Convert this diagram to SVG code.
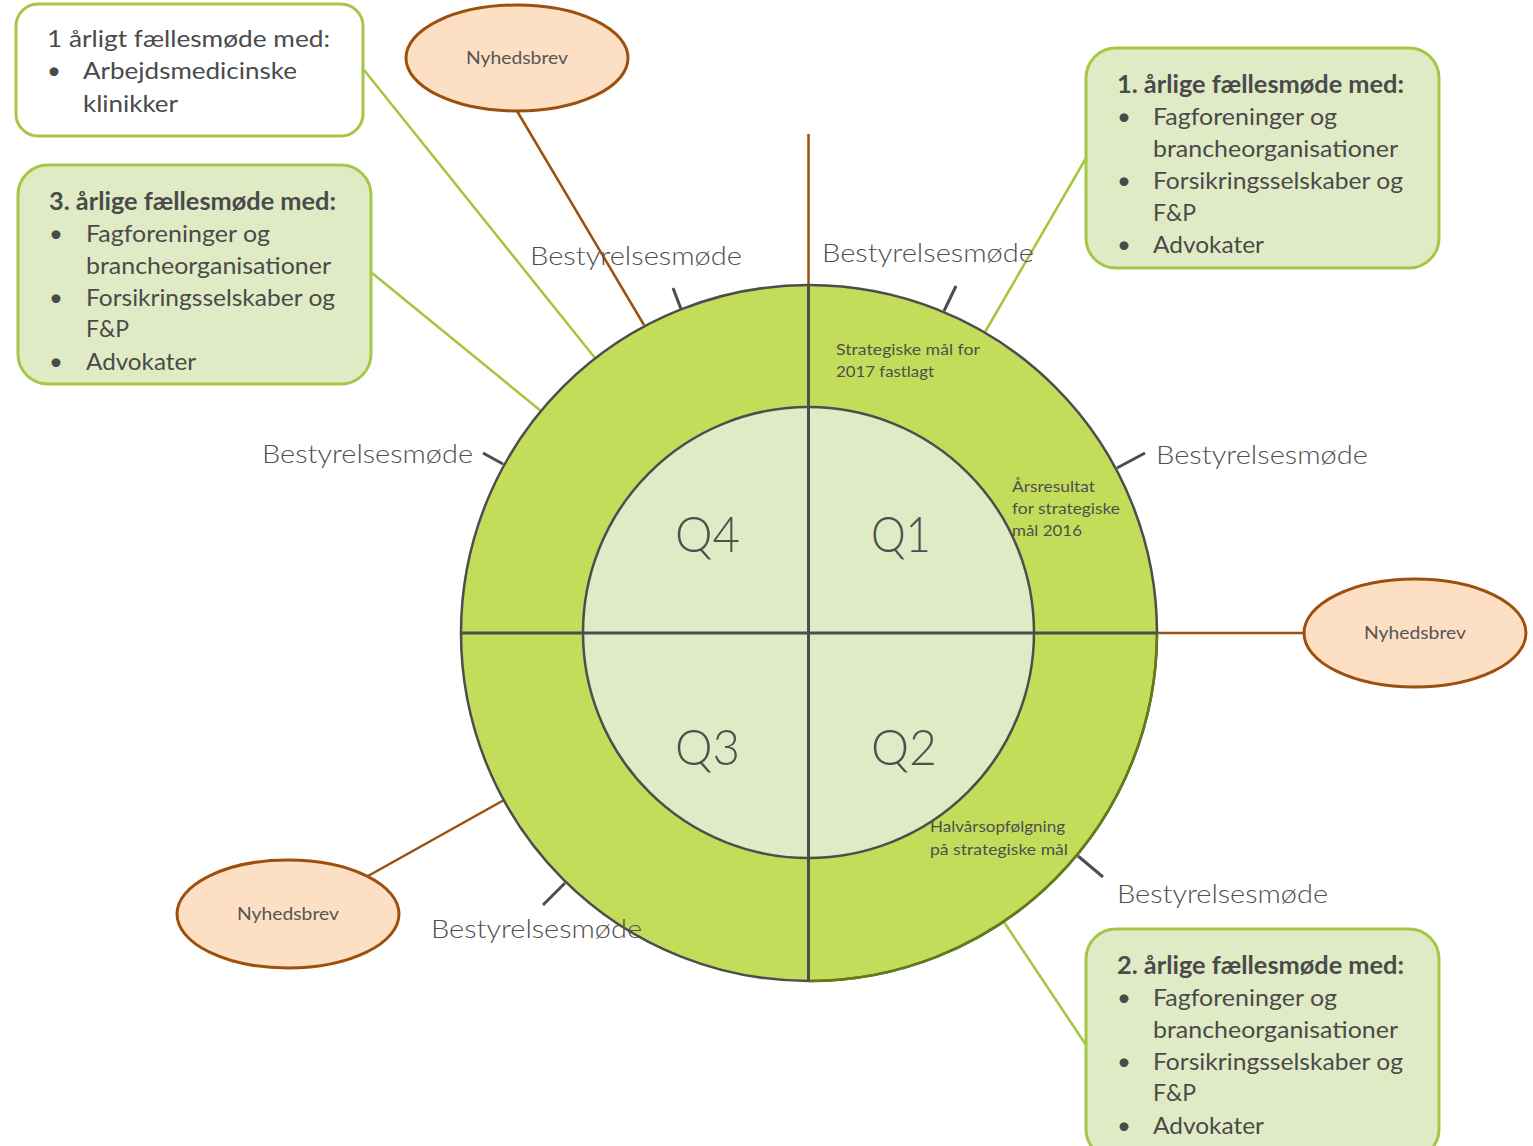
<svg xmlns="http://www.w3.org/2000/svg" width="1533" height="1146" viewBox="0 0 1533 1146">
<style>
.box{stroke:#a6c646;stroke-width:3}
.bt{font-family:Lato,"Liberation Sans",sans-serif;font-size:24px;fill:#4a4a4a}
.bh{font-weight:bold}
.ell{fill:#fde0c4;stroke:#9c500c;stroke-width:3}
.nt{font-family:Lato,"Liberation Sans",sans-serif;font-size:18px;fill:#555555;text-anchor:middle}
.bm{font-family:Lato,"DejaVu Sans",sans-serif;font-weight:300;font-size:26px;fill:#4f4f4f}
.q{font-family:Lato,"DejaVu Sans",sans-serif;font-weight:300;font-size:50px;fill:#4f4f4f}
.st{font-family:Lato,"Liberation Sans",sans-serif;font-size:16px;fill:#4f4f4f}
.cb{stroke:#9c500c;stroke-width:2.5;fill:none}
.cg{stroke:#a8c43c;stroke-width:2.5;fill:none}
.tick{stroke:#4d4d4d;stroke-width:3;fill:none}
</style>
<rect width="1533" height="1146" fill="#ffffff"/>
<g id="connectors">
<line class="cb" x1="517" y1="111" x2="644" y2="325"/>
<line class="cb" x1="808.5" y1="134" x2="808.5" y2="286"/>
<line class="cb" x1="1157" y1="633" x2="1305" y2="633"/>
<line class="cb" x1="368" y1="876" x2="504" y2="800"/>
<line class="cg" x1="364" y1="70" x2="595" y2="358"/>
<line class="cg" x1="372" y1="273" x2="541" y2="411"/>
<line class="cg" x1="1086" y1="158" x2="985" y2="332"/>
<line class="cg" x1="1086" y1="1045" x2="1004" y2="922"/>
</g>
<g id="wheel">
<circle cx="809" cy="633" r="348" fill="#c3dd5b" stroke="#4d4d4d" stroke-width="2.5"/>
<path d="M1157,633 A348,348 0 0 1 809,981" fill="none" stroke="#627d14" stroke-width="2.5"/>
<circle cx="808.5" cy="632.5" r="225.5" fill="#e0ebc6" stroke="#4d4d4d" stroke-width="2.5"/>
<line x1="808.5" y1="285" x2="808.5" y2="981" stroke="#4d4d4d" stroke-width="3"/>
<line x1="461" y1="633" x2="1157" y2="633" stroke="#4d4d4d" stroke-width="3"/>
<text class="q" x="675" y="552" textLength="65" lengthAdjust="spacingAndGlyphs">Q4</text>
<text class="q" x="871" y="552" textLength="60" lengthAdjust="spacingAndGlyphs">Q1</text>
<text class="q" x="675" y="765" textLength="65" lengthAdjust="spacingAndGlyphs">Q3</text>
<text class="q" x="871" y="765" textLength="66" lengthAdjust="spacingAndGlyphs">Q2</text>
<text class="st" x="836" y="355" textLength="144" lengthAdjust="spacingAndGlyphs">Strategiske mål for</text>
<text class="st" x="836" y="377" textLength="98" lengthAdjust="spacingAndGlyphs">2017 fastlagt</text>
<text class="st" x="1012" y="492" textLength="83" lengthAdjust="spacingAndGlyphs">Årsresultat</text>
<text class="st" x="1012" y="514" textLength="108" lengthAdjust="spacingAndGlyphs">for strategiske</text>
<text class="st" x="1012" y="536" textLength="70" lengthAdjust="spacingAndGlyphs">mål 2016</text>
<text class="st" x="930" y="832" textLength="135" lengthAdjust="spacingAndGlyphs">Halvårsopfølgning</text>
<text class="st" x="930" y="855" textLength="138" lengthAdjust="spacingAndGlyphs">på strategiske mål</text>
</g>
<g id="board-meetings">
<line class="tick" x1="673" y1="288" x2="681" y2="309"/>
<line class="tick" x1="956" y1="286" x2="944" y2="311"/>
<line class="tick" x1="1145" y1="453" x2="1117" y2="468"/>
<line class="tick" x1="1078" y1="856" x2="1103" y2="877"/>
<line class="tick" x1="565" y1="883" x2="543" y2="905"/>
<line class="tick" x1="483" y1="453" x2="503" y2="464"/>
<text class="bm" x="530" y="265" textLength="212" lengthAdjust="spacingAndGlyphs">Bestyrelsesmøde</text>
<text class="bm" x="822" y="262" textLength="212" lengthAdjust="spacingAndGlyphs">Bestyrelsesmøde</text>
<text class="bm" x="1156" y="464" textLength="212" lengthAdjust="spacingAndGlyphs">Bestyrelsesmøde</text>
<text class="bm" x="262" y="463" textLength="211" lengthAdjust="spacingAndGlyphs">Bestyrelsesmøde</text>
<text class="bm" x="1117" y="903" textLength="211" lengthAdjust="spacingAndGlyphs">Bestyrelsesmøde</text>
<text class="bm" x="431" y="938" textLength="211" lengthAdjust="spacingAndGlyphs">Bestyrelsesmøde</text>
</g>
<g id="nyhedsbrev-top">
<ellipse class="ell" cx="517" cy="58" rx="111" ry="53"/>
<text class="nt" x="517" y="64" textLength="102" lengthAdjust="spacingAndGlyphs">Nyhedsbrev</text>
</g>
<g id="nyhedsbrev-right">
<ellipse class="ell" cx="1415" cy="633" rx="111" ry="54"/>
<text class="nt" x="1415" y="639" textLength="102" lengthAdjust="spacingAndGlyphs">Nyhedsbrev</text>
</g>
<g id="nyhedsbrev-left">
<ellipse class="ell" cx="288" cy="914" rx="111" ry="54"/>
<text class="nt" x="288" y="920" textLength="102" lengthAdjust="spacingAndGlyphs">Nyhedsbrev</text>
</g>
<g id="box-klinikker">
<rect class="box" x="16" y="4" width="347" height="132" rx="22" fill="#ffffff"/>
<text class="bt" x="47" y="47" textLength="283" lengthAdjust="spacingAndGlyphs">1 årligt fællesmøde med:</text>
<text class="bt" x="47" y="79">•</text>
<text class="bt" x="83" y="79" textLength="214" lengthAdjust="spacingAndGlyphs">Arbejdsmedicinske</text>
<text class="bt" x="83" y="112" textLength="95" lengthAdjust="spacingAndGlyphs">klinikker</text>
</g>
<g id="box-3">
<rect class="box" x="18" y="165" width="353" height="219" rx="30" fill="#e0ebc5"/>
<text class="bt bh" x="49" y="210" textLength="287" lengthAdjust="spacingAndGlyphs">3. årlige fællesmøde med:</text>
<text class="bt" x="49" y="242">•</text>
<text class="bt" x="86" y="242" textLength="184" lengthAdjust="spacingAndGlyphs">Fagforeninger og</text>
<text class="bt" x="86" y="274" textLength="245" lengthAdjust="spacingAndGlyphs">brancheorganisationer</text>
<text class="bt" x="49" y="306">•</text>
<text class="bt" x="86" y="306" textLength="249" lengthAdjust="spacingAndGlyphs">Forsikringsselskaber og</text>
<text class="bt" x="86" y="337" textLength="43" lengthAdjust="spacingAndGlyphs">F&amp;P</text>
<text class="bt" x="49" y="370">•</text>
<text class="bt" x="86" y="370" textLength="110" lengthAdjust="spacingAndGlyphs">Advokater</text>
</g>
<g id="box-1">
<rect class="box" x="1086" y="48" width="353" height="220" rx="30" fill="#e0ebc5"/>
<text class="bt bh" x="1117" y="93" textLength="287" lengthAdjust="spacingAndGlyphs">1. årlige fællesmøde med:</text>
<text class="bt" x="1117" y="125">•</text>
<text class="bt" x="1153" y="125" textLength="184" lengthAdjust="spacingAndGlyphs">Fagforeninger og</text>
<text class="bt" x="1153" y="157" textLength="245" lengthAdjust="spacingAndGlyphs">brancheorganisationer</text>
<text class="bt" x="1117" y="189">•</text>
<text class="bt" x="1153" y="189" textLength="250" lengthAdjust="spacingAndGlyphs">Forsikringsselskaber og</text>
<text class="bt" x="1153" y="221" textLength="43" lengthAdjust="spacingAndGlyphs">F&amp;P</text>
<text class="bt" x="1117" y="253">•</text>
<text class="bt" x="1153" y="253" textLength="111" lengthAdjust="spacingAndGlyphs">Advokater</text>
</g>
<g id="box-2">
<rect class="box" x="1086" y="929" width="353" height="230" rx="30" fill="#e0ebc5"/>
<text class="bt bh" x="1117" y="974" textLength="287" lengthAdjust="spacingAndGlyphs">2. årlige fællesmøde med:</text>
<text class="bt" x="1117" y="1006">•</text>
<text class="bt" x="1153" y="1006" textLength="184" lengthAdjust="spacingAndGlyphs">Fagforeninger og</text>
<text class="bt" x="1153" y="1038" textLength="245" lengthAdjust="spacingAndGlyphs">brancheorganisationer</text>
<text class="bt" x="1117" y="1070">•</text>
<text class="bt" x="1153" y="1070" textLength="250" lengthAdjust="spacingAndGlyphs">Forsikringsselskaber og</text>
<text class="bt" x="1153" y="1101" textLength="43" lengthAdjust="spacingAndGlyphs">F&amp;P</text>
<text class="bt" x="1117" y="1134">•</text>
<text class="bt" x="1153" y="1134" textLength="111" lengthAdjust="spacingAndGlyphs">Advokater</text>
</g>
</svg>
